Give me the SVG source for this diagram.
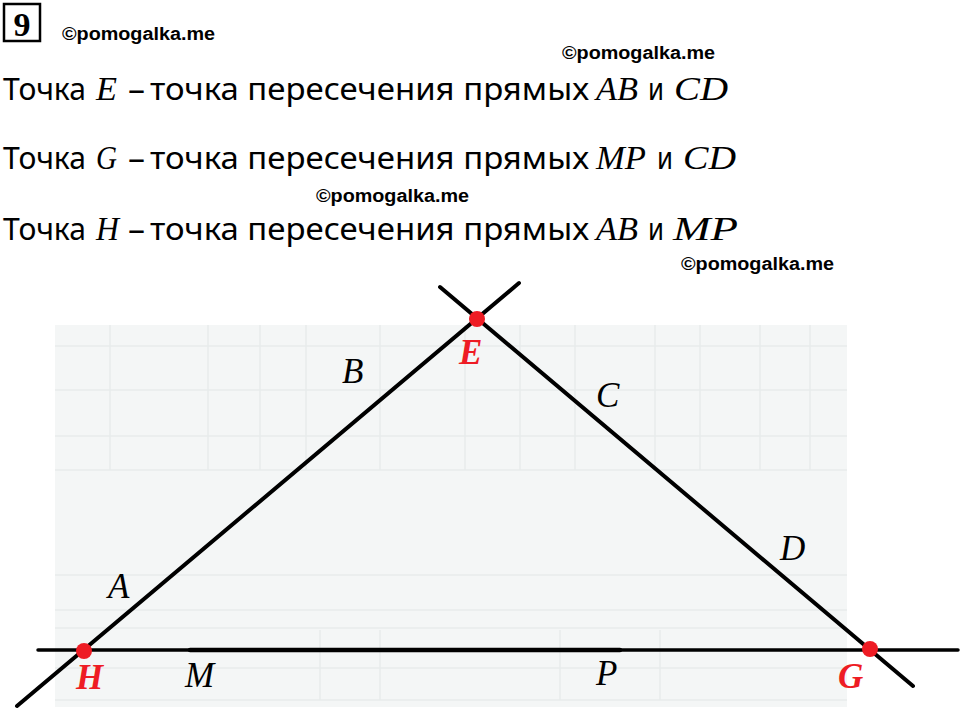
<svg xmlns="http://www.w3.org/2000/svg" width="960" height="710" viewBox="0 0 960 710">
<style>
.txt{font-family:"Noto Sans","Open Sans","DejaVu Sans",sans-serif;font-size:31px;fill:#000}
.m{font-family:"Liberation Serif","DejaVu Serif",serif;font-style:italic;font-size:34px;fill:#000}
.wm{font-family:"Liberation Sans","Arial",sans-serif;font-weight:bold;font-size:18px;fill:#000}
.lbl{font-family:"Liberation Serif","DejaVu Serif",serif;font-style:italic;font-size:35px;fill:#000}
.rl{font-family:"Liberation Serif","DejaVu Serif",serif;font-style:italic;font-weight:bold;font-size:35px;fill:#ee1c24}
.ln{stroke:#000;stroke-width:4;stroke-linecap:round;fill:none}
.dot{fill:#ee1c24}
.grid{stroke:#e8ebeb;stroke-width:1.5;fill:none}
</style>
<rect width="960" height="710" fill="#fff"/>
<g id="background">
<rect x="55" y="325" width="792" height="382" fill="#f4f6f6"/>
<path class="grid" d="M55 346H847M55 390H847M55 436H847M55 470H847M55 575H847M55 610H847M55 628H847M55 668H847M55 700H847"/>
<path class="grid" d="M110 325V470M208 325V470M260 325V470M306 325V470M380 325V470M465 325V470M520 325V470M575 325V470M655 325V470M700 325V470M760 325V470M810 325V470M320 630V700M380 630V700M560 630V700M660 630V700"/>
</g>
<g id="header">
<rect x="4" y="4" width="36" height="37" fill="none" stroke="#000" stroke-width="2.5"/>
<text x="22" y="36" text-anchor="middle" style="font-family:'Liberation Serif',serif;font-weight:bold;font-size:34px">9</text>
<text class="wm" x="62" y="40" textLength="153" lengthAdjust="spacingAndGlyphs">©pomogalka.me</text>
<text class="wm" x="562" y="59" textLength="153" lengthAdjust="spacingAndGlyphs">©pomogalka.me</text>
<text class="wm" x="316" y="202" textLength="153" lengthAdjust="spacingAndGlyphs">©pomogalka.me</text>
<text class="wm" x="681" y="270" textLength="153" lengthAdjust="spacingAndGlyphs">©pomogalka.me</text>
</g>
<g id="line1">
<text class="txt" x="3" y="100" textLength="83" lengthAdjust="spacingAndGlyphs">Точка</text>
<text class="m" x="96" y="100" textLength="21" lengthAdjust="spacingAndGlyphs">E</text>
<text class="txt" x="128" y="100" textLength="17" lengthAdjust="spacingAndGlyphs">–</text>
<text class="txt" x="150" y="100" textLength="439" lengthAdjust="spacingAndGlyphs">точка пересечения прямых</text>
<text class="m" x="596" y="100" textLength="42" lengthAdjust="spacingAndGlyphs">AB</text>
<text class="txt" x="648" y="100" textLength="16" lengthAdjust="spacingAndGlyphs">и</text>
<text class="m" x="674" y="100" textLength="54" lengthAdjust="spacingAndGlyphs">CD</text>
</g>
<g id="line2">
<text class="txt" x="3" y="169" textLength="83" lengthAdjust="spacingAndGlyphs">Точка</text>
<text class="m" x="96" y="169" textLength="21" lengthAdjust="spacingAndGlyphs">G</text>
<text class="txt" x="128" y="169" textLength="17" lengthAdjust="spacingAndGlyphs">–</text>
<text class="txt" x="150" y="169" textLength="439" lengthAdjust="spacingAndGlyphs">точка пересечения прямых</text>
<text class="m" x="596" y="169" textLength="50" lengthAdjust="spacingAndGlyphs">MP</text>
<text class="txt" x="657" y="169" textLength="16" lengthAdjust="spacingAndGlyphs">и</text>
<text class="m" x="683" y="169" textLength="53" lengthAdjust="spacingAndGlyphs">CD</text>
</g>
<g id="line3">
<text class="txt" x="3" y="240" textLength="83" lengthAdjust="spacingAndGlyphs">Точка</text>
<text class="m" x="96" y="240" textLength="23" lengthAdjust="spacingAndGlyphs">H</text>
<text class="txt" x="128" y="240" textLength="17" lengthAdjust="spacingAndGlyphs">–</text>
<text class="txt" x="150" y="240" textLength="439" lengthAdjust="spacingAndGlyphs">точка пересечения прямых</text>
<text class="m" x="596" y="240" textLength="42" lengthAdjust="spacingAndGlyphs">AB</text>
<text class="txt" x="648" y="240" textLength="16" lengthAdjust="spacingAndGlyphs">и</text>
<text class="m" x="673" y="240" textLength="65" lengthAdjust="spacingAndGlyphs">MP</text>
</g>
<g id="connectors">
<line class="ln" x1="17" y1="706" x2="519" y2="283"/>
<line class="ln" x1="440" y1="287" x2="913" y2="686"/>
<line class="ln" x1="38" y1="650" x2="958" y2="650" style="stroke-width:3.5"/>
<line class="ln" x1="190" y1="650" x2="620" y2="650" style="stroke-width:4.5"/>
</g>
<g id="point-E"><circle class="dot" cx="477" cy="319" r="8"/><text class="rl" x="459" y="364">E</text></g>
<g id="point-H"><circle class="dot" cx="84" cy="651" r="8"/><text class="rl" x="76" y="689">H</text></g>
<g id="point-G"><circle class="dot" cx="870" cy="649" r="8"/><text class="rl" x="838" y="688">G</text></g>
<g id="label-A"><text class="lbl" x="108" y="598">A</text></g>
<g id="label-B"><text class="lbl" x="342" y="383">B</text></g>
<g id="label-C"><text class="lbl" x="596" y="407">C</text></g>
<g id="label-D"><text class="lbl" x="780" y="560">D</text></g>
<g id="label-M"><text class="lbl" x="185" y="687">M</text></g>
<g id="label-P"><text class="lbl" x="596" y="685">P</text></g>
</svg>
